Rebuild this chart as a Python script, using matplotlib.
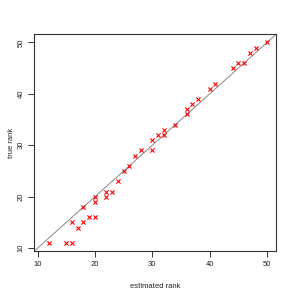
import matplotlib
matplotlib.use('Agg')
import matplotlib.pyplot as plt

plt.rcParams['font.family'] = ['Liberation Sans', 'DejaVu Sans']

# Estimated vs true rank
est_rank = [12, 15, 16, 17, 16, 18, 19, 20, 18, 20, 20, 22, 22, 23, 24, 25,
            26, 27, 28, 30, 30, 31, 32, 32, 34, 36, 36, 37, 38, 40, 41, 44,
            45, 46, 47, 48, 50]
true_rank = [11, 11, 11, 14, 15, 15, 16, 16, 18, 19, 20, 20, 21, 21, 23, 25,
             26, 28, 29, 29, 31, 32, 32, 33, 34, 36, 37, 38, 39, 41, 42, 45,
             46, 46, 48, 49, 50]
x_ticks = [10, 20, 30, 40, 50]
y_ticks = [10, 20, 30, 40, 50]

fig = plt.figure(figsize=(2.94, 2.94), dpi=100)
ax = fig.add_axes([0.1167, 0.146, 0.822, 0.737])

ax.scatter(est_rank, true_rank, marker='x', color='red', s=9, linewidths=0.8,
           zorder=3)
ax.axline((0, 0), slope=1, color='#888888', linewidth=0.7, zorder=2)

ax.set_xlim(9.44, 51.56)
ax.set_ylim(9.44, 51.56)
ax.set_xticks(x_ticks)
ax.set_yticks(y_ticks)
ax.set_yticklabels([str(v) for v in y_ticks], rotation=90, va='center')

for spine in ax.spines.values():
    spine.set_color('#333333')
    spine.set_linewidth(0.8)
ax.tick_params(direction='out', length=4, width=0.7, color='#333333',
               labelsize=5.5, pad=3, labelcolor='#222222')
ax.set_xlabel('estimated rank', fontsize=5.5, color='#222222')
ax.set_ylabel('true rank', fontsize=5.5, color='#222222')
ax.xaxis.set_label_coords(0.5, -0.148)
ax.yaxis.set_label_coords(-0.08, 0.5)

fig.savefig('out.png', dpi=100)
